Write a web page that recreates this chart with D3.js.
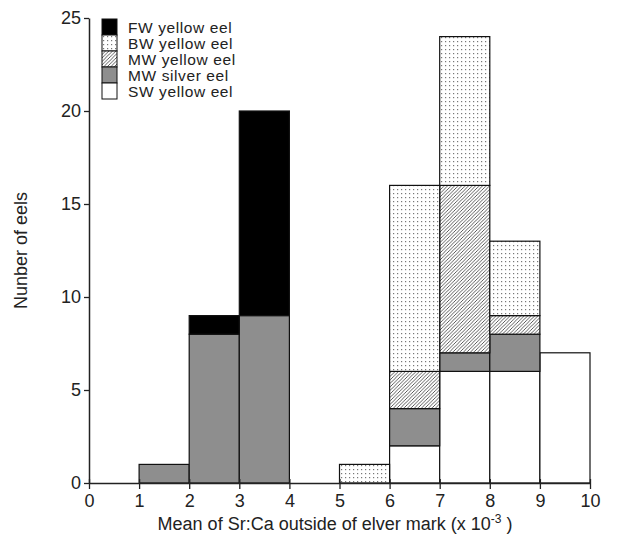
<!DOCTYPE html>
<html>
<head>
<meta charset="utf-8">
<script src="https://cdn.jsdelivr.net/npm/d3@7"></script>
<style>
  body { margin: 0; background: #fff; }
  svg { display: block; font-family: "Liberation Sans", Arial, sans-serif; }
</style>
</head>
<body>
<div id="chart"></div>
<script>
// bins along the x axis (lower edge of each 1-wide bin)
const binStarts = [1, 2, 3, 4, 5, 6, 7, 8, 9];
const groups = ["SW yellow eel", "MW silver eel", "MW yellow eel", "BW yellow eel", "FW yellow eel"];
const swYellow = [0, 0, 0, 0, 0, 2, 6, 6, 7];
const mwSilver = [1, 8, 9, 0, 0, 2, 1, 2, 0];
const mwYellow = [0, 0, 0, 0, 0, 2, 9, 1, 0];
const bwYellow = [0, 0, 0, 0, 1, 10, 8, 4, 0];
const fwYellow = [0, 1, 11, 0, 0, 0, 0, 0, 0];
const legendOrder = ["FW yellow eel", "BW yellow eel", "MW yellow eel", "MW silver eel", "SW yellow eel"];
const xTicks = [0, 1, 2, 3, 4, 5, 6, 7, 8, 9, 10];
const yTicks = [0, 5, 10, 15, 20, 25];

const width = 620;
const height = 547;
const margin = { top: 18, right: 30, bottom: 64, left: 89 };

const svg = d3.select("#chart").append("svg")
	.attr("width", width)
	.attr("height", height);

const defs = svg.append("defs");

// dotted fill for BW
const dots = defs.append("pattern")
	.attr("id", "dots")
	.attr("patternUnits", "userSpaceOnUse")
	.attr("width", 4)
	.attr("height", 4);
dots.append("rect").attr("width", 4).attr("height", 4).attr("fill", "#fff");
dots.append("rect").attr("x", 1).attr("y", 1).attr("width", 1.2).attr("height", 1.2).attr("fill", "#777");

// diagonal hatch for MW yellow
const hatch = defs.append("pattern")
	.attr("id", "hatch")
	.attr("patternUnits", "userSpaceOnUse")
	.attr("width", 3.5)
	.attr("height", 3.5);
hatch.append("rect").attr("width", 3.5).attr("height", 3.5).attr("fill", "#fff");
hatch.append("path")
	.attr("d", "M-1,1 l2,-2 M0,3.5 l3.5,-3.5 M2.5,4.5 l2,-2")
	.attr("stroke", "#333")
	.attr("stroke-width", 0.8);

const fills = {
	"SW yellow eel": "#fff",
	"MW silver eel": "#8e8e8e",
	"MW yellow eel": "url(#hatch)",
	"BW yellow eel": "url(#dots)",
	"FW yellow eel": "#000"
};

const x = d3.scaleLinear()
	.domain([0, 10])
	.range([margin.left, width - margin.right]);

const y = d3.scaleLinear()
	.domain([0, 25])
	.range([height - margin.bottom, margin.top]);

const rows = binStarts.map((b, i) => ({
	bin: b,
	"SW yellow eel": swYellow[i],
	"MW silver eel": mwSilver[i],
	"MW yellow eel": mwYellow[i],
	"BW yellow eel": bwYellow[i],
	"FW yellow eel": fwYellow[i]
}));

const series = d3.stack().keys(groups)(rows);

const layers = svg.selectAll("g.layer")
	.data(series)
	.join("g")
	.attr("class", "layer")
	.attr("fill", d => fills[d.key]);

layers.selectAll("rect")
	.data(d => d.filter(v => v[1] > v[0]))
	.join("rect")
	.attr("x", d => x(d.data.bin))
	.attr("y", d => y(d[1]))
	.attr("width", d => x(d.data.bin + 1) - x(d.data.bin))
	.attr("height", d => y(d[0]) - y(d[1]))
	.attr("stroke", "#111")
	.attr("stroke-width", 1.2);

// x axis
const xAxis = svg.append("g")
	.attr("transform", `translate(0,${y(0)})`)
	.call(d3.axisBottom(x).tickValues(xTicks).tickSize(6).tickSizeOuter(0));
xAxis.attr("font-size", null).attr("font-family", null);
xAxis.selectAll(".tick line").attr("y1", -4).attr("stroke", "#222").attr("stroke-width", 1.3);
xAxis.select(".domain").attr("stroke", "#222").attr("stroke-width", 1.5);
xAxis.selectAll("text")
	.attr("y", 11)
	.attr("fill", "#222")
	.style("font-size", "18px");

// y axis
const yAxis = svg.append("g")
	.attr("transform", `translate(${x(0)},0)`)
	.call(d3.axisLeft(y).tickValues(yTicks).tickSize(5).tickSizeOuter(0));
yAxis.attr("font-size", null).attr("font-family", null);
yAxis.selectAll(".tick line").attr("stroke", "#222").attr("stroke-width", 1.3);
yAxis.select(".domain").attr("stroke", "#222").attr("stroke-width", 1.5);
yAxis.selectAll("text")
	.attr("x", -8)
	.attr("fill", "#222")
	.style("font-size", "18px");

// axis titles
const xTitle = svg.append("text")
	.attr("x", 335)
	.attr("y", 530)
	.attr("text-anchor", "middle")
	.attr("fill", "#222")
	.style("font-size", "18px");
xTitle.append("tspan").text("Mean of Sr:Ca outside of elver mark (x 10");
xTitle.append("tspan").attr("dy", -7).style("font-size", "12px").text("-3");
xTitle.append("tspan").attr("dy", 7).text(" )");

svg.append("text")
	.attr("transform", `translate(27,${(y(0) + y(25)) / 2}) rotate(-90)`)
	.attr("text-anchor", "middle")
	.attr("fill", "#222")
	.style("font-size", "18px")
	.text("Nunber of eels");

// legend
const legend = svg.append("g")
	.attr("transform", "translate(102,19)");

const items = legend.selectAll("g")
	.data(legendOrder)
	.join("g")
	.attr("transform", (d, i) => `translate(0,${i * 16})`);

items.append("rect")
	.attr("width", 15)
	.attr("height", 16)
	.attr("fill", d => fills[d])
	.attr("stroke", "#111")
	.attr("stroke-width", 1);

items.append("text")
	.attr("x", 26)
	.attr("y", 13.5)
	.attr("fill", "#222")
	.style("font-size", "15.5px")
	.style("letter-spacing", "0.6px")
	.text(d => d);
</script>
</body>
</html>
